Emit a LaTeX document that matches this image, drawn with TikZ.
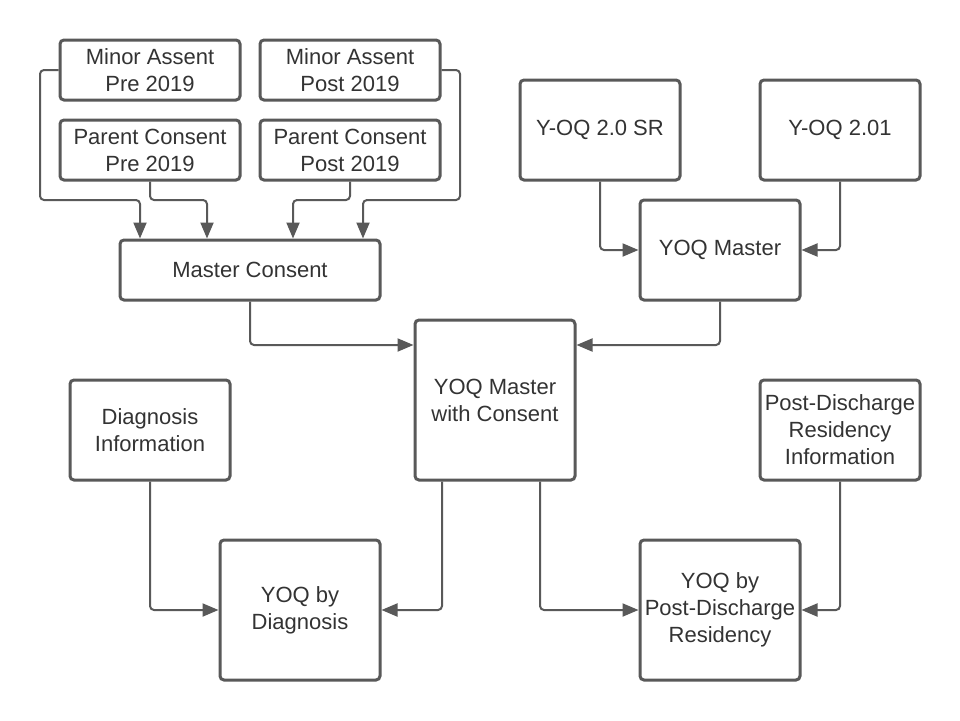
\documentclass[tikz,border=0pt]{standalone}
\usepackage{fontspec}
\setmainfont{Liberation Sans}
\usetikzlibrary{arrows.meta}
\definecolor{linegray}{HTML}{595959}
\definecolor{textgray}{HTML}{333333}
\begin{document}
\begin{tikzpicture}[x=1pt,y=-1pt,
  box/.style={draw=linegray, line width=3pt, rounded corners=4pt, fill=white,
    align=center, text=textgray, inner sep=0pt,
    font=\fontsize{22}{27}\selectfont},
  conn/.style={draw=linegray, line width=2pt, rounded corners=4pt,
    -{Triangle[length=16pt,width=13pt]}}]
\useasboundingbox[fill=white] (0,0) rectangle (960,720);
\node[box, minimum width=180pt, minimum height=60pt] (map) at (150,70) {Minor Assent\\Pre 2019};
\node[box, minimum width=180pt, minimum height=60pt] (mapo) at (350,70) {Minor Assent\\Post 2019};
\node[box, minimum width=180pt, minimum height=60pt] (pcp) at (150,150) {Parent Consent\\Pre 2019};
\node[box, minimum width=180pt, minimum height=60pt] (pcpo) at (350,150) {Parent Consent\\Post 2019};
\node[box, minimum width=260pt, minimum height=60pt] (mc) at (250,270) {Master Consent};
\node[box, minimum width=160pt, minimum height=100pt] (sr) at (600,130) {Y-OQ 2.0 SR};
\node[box, minimum width=160pt, minimum height=100pt] (y201) at (840,130) {Y-OQ 2.01};
\node[box, minimum width=160pt, minimum height=100pt] (yqm) at (720,250) {YOQ Master};
\node[box, minimum width=160pt, minimum height=160pt] (wc) at (495,400) {YOQ Master\\with Consent};
\node[box, minimum width=160pt, minimum height=100pt] (di) at (150,430) {Diagnosis\\Information};
\node[box, minimum width=160pt, minimum height=100pt] (pdi) at (840,430) {Post-Discharge\\Residency\\Information};
\node[box, minimum width=160pt, minimum height=140pt] (ybd) at (300,610) {YOQ by\\Diagnosis};
\node[box, minimum width=160pt, minimum height=140pt] (ybp) at (720,610) {YOQ by\\Post-Discharge\\Residency};

\draw[conn] (map.west) -- (40,70) -- (40,200) -- (140,200) -- ([xshift=-110pt]mc.north);
\draw[conn] (pcp.south) -- (150,200) -- (207,200) -- ([xshift=-43pt]mc.north);
\draw[conn] (pcpo.south) -- (350,200) -- (293,200) -- ([xshift=43pt]mc.north);
\draw[conn] (mapo.east) -- (460,70) -- (460,200) -- (363,200) -- ([xshift=113pt]mc.north);
\draw[conn] (mc.south) -- (250,345) -- ([yshift=55pt]wc.west);
\draw[conn] (yqm.south) -- (720,345) -- ([yshift=55pt]wc.east);
\draw[conn] (sr.south) -- (600,250) -- (yqm.west);
\draw[conn] (y201.south) -- (840,250) -- (yqm.east);
\draw[conn] (di.south) -- (150,610) -- (ybd.west);
\draw[conn] ([xshift=-53pt]wc.south) -- (442,610) -- (ybd.east);
\draw[conn] ([xshift=45pt]wc.south) -- (540,610) -- (ybp.west);
\draw[conn] (pdi.south) -- (840,610) -- (ybp.east);
\end{tikzpicture}
\end{document}
